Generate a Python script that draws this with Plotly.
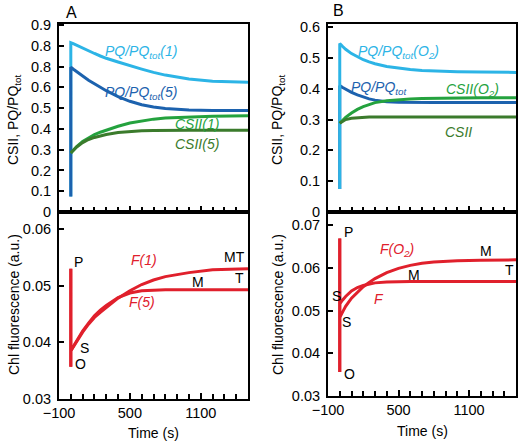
import plotly.graph_objects as go

# ---------------- data ----------------
TIME = [0, 25, 50, 100, 150, 200, 250, 300, 400, 500, 600, 700, 800, 1000, 1200, 1500]

# Panel A (top)
PQ_START_A = 0.075
PQ1 = [0.815, 0.809, 0.802, 0.789, 0.776, 0.763, 0.751, 0.740, 0.722, 0.704, 0.688, 0.672, 0.659, 0.640, 0.630, 0.625]
PQ5 = [0.697, 0.686, 0.675, 0.654, 0.634, 0.617, 0.600, 0.584, 0.555, 0.533, 0.516, 0.505, 0.498, 0.491, 0.489, 0.489]
CSII1 = [0.284, 0.300, 0.315, 0.340, 0.358, 0.372, 0.384, 0.394, 0.413, 0.428, 0.439, 0.447, 0.452, 0.458, 0.461, 0.463]
CSII5 = [0.284, 0.299, 0.313, 0.334, 0.349, 0.359, 0.367, 0.373, 0.383, 0.388, 0.391, 0.392, 0.393, 0.393, 0.393, 0.393]

# Panel B (top)
PQ_START_B = 0.075
PQO2 = [0.547, 0.537, 0.528, 0.514, 0.503, 0.494, 0.487, 0.481, 0.472, 0.466, 0.462, 0.459, 0.457, 0.455, 0.454, 0.453]
PQ = [0.410, 0.404, 0.398, 0.388, 0.380, 0.373, 0.367, 0.363, 0.358, 0.356, 0.355, 0.355, 0.355, 0.355, 0.355, 0.355]
CSIIO2 = [0.288, 0.298, 0.307, 0.321, 0.333, 0.342, 0.349, 0.355, 0.361, 0.365, 0.367, 0.368, 0.369, 0.370, 0.371, 0.371]
CSII = [0.288, 0.295, 0.300, 0.304, 0.306, 0.307, 0.308, 0.308, 0.308, 0.308, 0.308, 0.308, 0.308, 0.308, 0.308, 0.308]

# Panel A (bottom) fluorescence: O and P levels, then S -> M -> T
F_O_A, F_P_A = 0.0357, 0.0530
F1 = [0.0385, 0.0393, 0.0402, 0.0418, 0.0432, 0.0444, 0.0453, 0.0461, 0.0478, 0.0491, 0.0502, 0.0510, 0.0516, 0.0523, 0.0528, 0.0530]
F5 = [0.0385, 0.0394, 0.0403, 0.0420, 0.0434, 0.0447, 0.0457, 0.0465, 0.0479, 0.0487, 0.0491, 0.0492, 0.0493, 0.0493, 0.0493, 0.0493]

# Panel B (bottom)
F_O_B, F_P_B = 0.0356, 0.0669
FB = [0.0516, 0.0525, 0.0533, 0.0546, 0.0554, 0.0559, 0.0562, 0.0565, 0.0567, 0.0568, 0.0568, 0.0568, 0.0568, 0.0568, 0.0568, 0.0568]
FO2 = [0.0484, 0.0497, 0.0510, 0.0529, 0.0543, 0.0556, 0.0566, 0.0575, 0.0589, 0.0599, 0.0606, 0.0611, 0.0614, 0.0617, 0.0618, 0.0619]

X_TICKS = [-100, 500, 1100]
YA_TICKS = [0, 0.1, 0.2, 0.3, 0.4, 0.5, 0.6, 0.7, 0.8, 0.9]
YA_TEXT = ["0", "0.1", "0.2", "0.3", "0.4", "0.5", "0.6", "0.8", "0.8", "0.9"]
YB_TICKS = [0, 0.1, 0.2, 0.3, 0.4, 0.5, 0.6]
YB_TEXT = ["0", "0.1", "0.2", "0.3", "0.4", "0.5", "0.6"]
FA_TICKS = [0.03, 0.04, 0.05, 0.06]
FB_TICKS = [0.03, 0.04, 0.05, 0.06, 0.07]

# ---------------- style ----------------
LIGHT = "#2cb4e6"
DARK = "#1c62ae"
GREEN = "#24a23e"
DGREEN = "#3b7b2c"
RED = "#e0202c"
FONT = "Liberation Sans, Arial, sans-serif"
TICK_SIZE = 14.5
LBL_SIZE = 14
W, H = 520, 441

def px(x):
    return x / W

def py(y):
    return 1 - y / H

fig = go.Figure()

def add(x, y, color, xa, ya):
    fig.add_trace(go.Scatter(x=x, y=y, mode="lines", line=dict(color=color, width=3),
                             xaxis=xa, yaxis=ya, showlegend=False, hoverinfo="skip"))

# A top
add([0] + TIME, [PQ_START_A] + PQ1, LIGHT, "x", "y")
add([0] + TIME, [PQ_START_A] + PQ5, DARK, "x", "y")
add(TIME, CSII1, GREEN, "x", "y")
add(TIME, CSII5, DGREEN, "x", "y")
# B top
add([0] + TIME, [PQ_START_B] + PQ, DARK, "x2", "y2")
add([0] + TIME, [PQ_START_B] + PQO2, LIGHT, "x2", "y2")
add(TIME, CSIIO2, GREEN, "x2", "y2")
add(TIME, CSII, DGREEN, "x2", "y2")
# A bottom
add([0, 0] + TIME, [F_O_A, F_P_A] + F1, RED, "x3", "y3")
add([0, 0] + TIME, [F_O_A, F_P_A] + F5, RED, "x3", "y3")
# B bottom
add([0, 0] + TIME, [F_O_B, F_P_B] + FB, RED, "x4", "y4")
add([0, 0] + TIME, [F_O_B, F_P_B] + FO2, RED, "x4", "y4")

def xax(domain, anchor, labels):
    return dict(domain=domain, anchor=anchor, range=[-100, 1500], tickvals=X_TICKS,
                showticklabels=labels, ticks="inside", ticklen=6, tickwidth=1.5, tickcolor="black",
                minor=dict(dtick=100, tick0=-100, ticks="inside", ticklen=5, tickwidth=1.5, tickcolor="black"),
                showline=True, linewidth=2, linecolor="black", mirror=True, showgrid=False,
                zeroline=False, automargin=False, tickfont=dict(size=TICK_SIZE, color="black"))

def yax(domain, anchor, rng, tv, tt):
    return dict(domain=domain, anchor=anchor, range=rng, tickvals=tv, ticktext=tt,
                ticks="inside", ticklen=5, tickwidth=1.5, tickcolor="black",
                showline=True, linewidth=2, linecolor="black", mirror=True, showgrid=False,
                zeroline=False, automargin=False, tickfont=dict(size=TICK_SIZE, color="black"),
                ticklabelstandoff=3)

XA = [px(59), px(248)]
XB = [px(328), px(516)]
fig.update_layout(
    width=W, height=H, margin=dict(l=0, r=0, t=0, b=0, autoexpand=False),
    paper_bgcolor="white", plot_bgcolor="white",
    font=dict(family=FONT, size=13, color="black"),
    xaxis=xax(XA, "y", False),
    yaxis=yax([py(212), py(24)], "x", [0, 0.905], YA_TICKS, YA_TEXT),
    xaxis2=xax(XB, "y2", False),
    yaxis2=yax([py(212), py(24)], "x2", [0, 0.61], YB_TICKS, YB_TEXT),
    xaxis3=xax(XA, "y3", True),
    yaxis3=yax([py(399), py(212)], "x3", [0.03, 0.063], FA_TICKS, [f"{v:.2f}" for v in FA_TICKS]),
    xaxis4=xax(XB, "y4", True),
    yaxis4=yax([py(396), py(212)], "x4", [0.03, 0.0731], FB_TICKS, [f"{v:.2f}" for v in FB_TICKS]),
)

ann = []
def label(x, y, text, color="black", size=LBL_SIZE, italic=False, angle=0):
    t = f"<i>{text}</i>" if italic else text
    ann.append(dict(x=px(x), y=py(y), xref="paper", yref="paper", text=t, showarrow=False,
                    font=dict(family=FONT, size=size, color=color), textangle=angle,
                    xanchor="center", yanchor="middle"))

# panel letters
label(71, 12, "A", size=16)
label(338, 11, "B", size=16)
# axis titles
label(14, 120, "CSII, PQ/PQ<sub>tot</sub>", size=14, angle=-90)
label(14, 305, "Chl fluorescence (a.u.)", size=14, angle=-90)
label(278, 120, "CSII, PQ/PQ<sub>tot</sub>", size=14, angle=-90)
label(278, 305, "Chl fluorescence (a.u.)", size=14, angle=-90)
label(153, 433, "Time (s)", size=14)
label(422, 431, "Time (s)", size=14)
# A top
label(141, 52, "PQ/PQ<sub>tot</sub>(1)", LIGHT, italic=True)
label(141, 93, "PQ/PQ<sub>tot</sub>(5)", DARK, italic=True)
label(197, 124, "CSII(1)", GREEN, italic=True)
label(197, 144, "CSII(5)", DGREEN, italic=True)
# B top
label(398, 52, "PQ/PQ<sub>tot</sub>(O<sub>2</sub>)", LIGHT, italic=True)
label(379, 88, "PQ/PQ<sub>tot</sub>", DARK, italic=True)
label(472, 90, "CSII(O<sub>2</sub>)", GREEN, italic=True)
label(458, 132, "CSII", DGREEN, italic=True)
# A bottom
label(78, 262, "P")
label(84, 348, "S")
label(80, 364, "O")
label(144, 260, "F(1)", RED, italic=True)
label(142, 302, "F(5)", RED, italic=True)
label(198, 282, "M")
label(234, 257, "MT")
label(239, 278, "T")
# B bottom
label(348, 232, "P")
label(336, 296, "S")
label(346, 322, "S")
label(349, 374, "O")
label(397, 250, "F(O<sub>2</sub>)", RED, italic=True)
label(379, 299, "F", RED, italic=True)
label(414, 275, "M")
label(486, 251, "M")
label(509, 270, "T")
fig.update_layout(annotations=ann)

fig.write_html("out.html", config={"displayModeBar": False},
               post_script="document.body.style.margin='0';document.body.style.padding='0';")
